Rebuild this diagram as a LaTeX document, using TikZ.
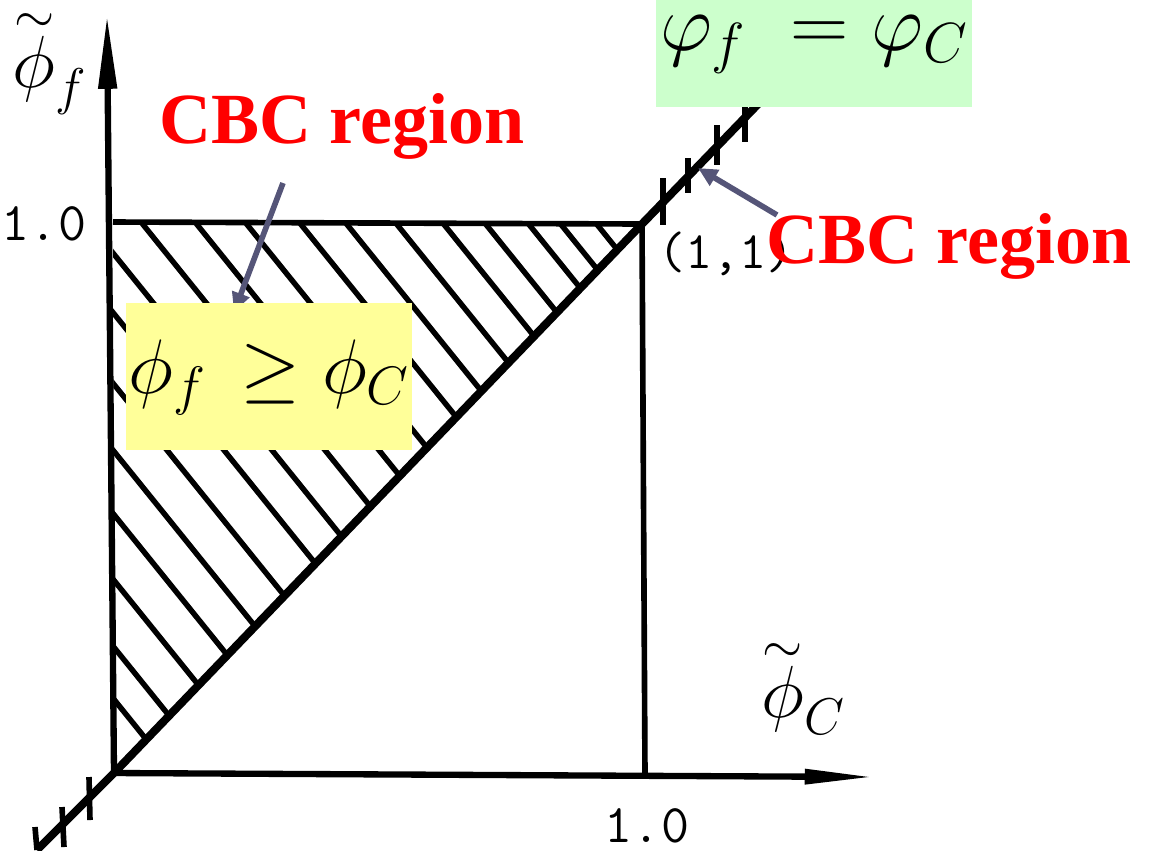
\RequirePackage{fix-cm}
\documentclass[tikz,border=0pt]{standalone}
\usepackage{fontspec}
\setmainfont{Liberation Serif}
\usetikzlibrary{arrows.meta}
\definecolor{cbcred}{RGB}{255,0,0}
\definecolor{greenfill}{RGB}{204,255,204}
\definecolor{yellowfill}{RGB}{255,255,153}
\definecolor{pointercol}{RGB}{85,85,120}
\newcommand{\tphi}{\mathord{\stackrel{\sim}{\phi}}}
\begin{document}
\begin{tikzpicture}[x=0.02cm,y=-0.02cm,
  axisline/.style={line width=3.6pt},
  frameline/.style={line width=3.2pt},
  diagline/.style={line width=4.6pt},
  tickline/.style={line width=3.2pt},
  hatchline/.style={line width=3.1pt},
  pointer/.style={draw=pointercol,line width=3.2pt,-{Triangle[length=11pt,width=10pt]}},
  cbc/.style={text=cbcred,font=\fontsize{41}{45}\selectfont\bfseries,inner sep=0pt,anchor=base west},
  axlab/.style={inner sep=0pt,font=\fontsize{42}{46}\selectfont},
  numlab/.style={inner sep=0pt,font=\fontsize{31}{34}\selectfont\ttfamily\addfontfeatures{FakeBold=1.5}},
  ptlab/.style={inner sep=0pt,font=\fontsize{30}{34}\selectfont\ttfamily\addfontfeatures{FakeBold=1.2}},
  eqbox/.style={inner sep=0pt,anchor=base}]
\useasboundingbox (0,0) rectangle (1151,850);

% key points
\coordinate (O) at (114,773);
\coordinate (Yt) at (113,222);
\coordinate (P) at (642,224);
\coordinate (Xb) at (645,776);
\coordinate (Ytip) at (107,15);
\coordinate (Xtip) at (875,777);
\coordinate (Dlow) at (37,850);
\coordinate (Dhigh) at (762,100);

% hatching
\begin{scope}
  \clip (O) -- (Yt) -- (P) -- cycle;
  \foreach \xi in {-271,-229,-175,-122,-71,-17,40,88,141,195,245,299,345,395,442,484,527,559,595}
    \draw[hatchline] (\xi-300,-150) -- (\xi+700,1090);
\end{scope}

% frame lines
\draw[frameline] (Yt) -- (P);
\draw[frameline] (P) -- (Xb);

% axes
\draw[axisline,-{Triangle[length=42pt,width=10pt]}] (O) -- (Ytip);
\draw[axisline,-{Triangle[length=40pt,width=8pt]}] (O) -- (Xtip);

% diagonal phi_f = phi_C
\draw[diagline] (Dlow) -- (O) -- (P) -- (Dhigh);

% ticks on diagonal
\coordinate (t1a) at (89,777);  \coordinate (t1b) at (90,820);
\coordinate (t2a) at (62,807);  \coordinate (t2b) at (64,847);
\coordinate (t3a) at (35,827);  \coordinate (t3b) at (37,850);
\coordinate (t4a) at (663,178); \coordinate (t4b) at (663,225);
\coordinate (t5a) at (688,158); \coordinate (t5b) at (688,193);
\coordinate (t6a) at (717,125); \coordinate (t6b) at (717,165);
\coordinate (t7a) at (745,100); \coordinate (t7b) at (745,142);
\foreach \i in {1,...,7} \draw[tickline] (t\i a) -- (t\i b);

% pointer to the yellow box (drawn below the box)
\coordinate (p1s) at (283,183);
\coordinate (p1e) at (234,312);
\draw[pointer] (p1s) -- (p1e);

% coloured boxes with formulas
\node[eqbox,fill=greenfill,minimum width=6.34cm,text height=1.2cm,text depth=1.14cm] (eqgreen) at (814,50)
  {\fontsize{46}{50}\selectfont$\varphi_f\;=\varphi_C$};
\node[eqbox,fill=yellowfill,minimum width=5.74cm,text height=1.8cm,text depth=1.14cm] (eqyellow) at (269,393)
  {\fontsize{44}{50}\selectfont$\phi_f\,\geq\phi_C$};

% pointer to the diagonal ticks
\coordinate (p2s) at (777,215);
\coordinate (p2e) at (698,168);
\draw[pointer] (p2s) -- (p2e);

% axis labels and numbers
\node[axlab] (ylab) at (50,63) {$\tphi_f$};
\node[axlab] (xlab) at (803,688) {$\tphi_C$};
\node[numlab] (yone) at (44,224) {1.0};
\node[numlab] (xone) at (647,826) {1.0};
\node[ptlab] (pt11) at (726,254) {(1,1)};

% red labels
\node[cbc] (cbc1) at (159,143) {CBC region};
\node[cbc] (cbc2) at (766,263) {CBC region};
\end{tikzpicture}
\end{document}
